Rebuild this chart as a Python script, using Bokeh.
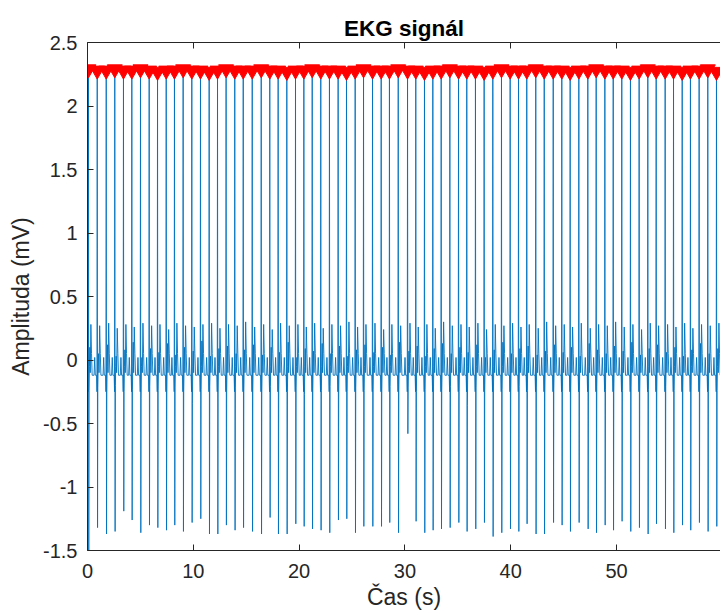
from bokeh.plotting import figure
from bokeh.models import LinearAxis, Range1d, FixedTicker
from bokeh.embed import file_html
from bokeh.resources import INLINE

# R-peak times (s)
beat_times = [0.09, 0.92, 1.77, 2.58, 3.40, 4.19, 5.01, 5.83, 6.62, 7.44, 8.22, 9.04, 9.86, 10.68, 11.50, 12.29, 13.10, 13.92, 14.72,
              15.57, 16.42, 17.23, 18.02, 18.84, 19.66, 20.45, 21.24, 22.05, 22.87, 23.69, 24.48, 25.30, 26.09, 26.94, 27.76, 28.54, 29.37,
              30.25, 31.03, 31.85, 32.64, 33.43, 34.25, 35.07, 35.85, 36.67, 37.49, 38.31, 39.13, 39.95, 40.74, 41.52, 42.37, 43.17, 44.02,
              44.83, 45.62, 46.44, 47.29, 48.08, 48.90, 49.69, 50.50, 51.32, 52.14, 52.96, 53.75, 54.60, 55.39, 56.21, 56.99, 57.81, 58.63, 59.45]

# R-peak amplitudes (mV)
r_peaks = [2.29, 2.28, 2.28, 2.29, 2.28, 2.28, 2.29, 2.28, 2.27, 2.28, 2.28, 2.29, 2.28, 2.28, 2.27, 2.28, 2.29, 2.28, 2.28,
           2.28, 2.29, 2.28, 2.28, 2.27, 2.28, 2.28, 2.29, 2.28, 2.28, 2.28, 2.27, 2.28, 2.29, 2.28, 2.28, 2.28, 2.29,
           2.28, 2.28, 2.27, 2.28, 2.28, 2.29, 2.28, 2.28, 2.28, 2.27, 2.28, 2.29, 2.28, 2.28, 2.28, 2.29, 2.28, 2.28,
           2.28, 2.27, 2.28, 2.28, 2.29, 2.28, 2.28, 2.28, 2.27, 2.28, 2.29, 2.28, 2.28, 2.28, 2.27, 2.28, 2.28, 2.29, 2.27]

# S-wave troughs (mV)
s_troughs = [-1.50, -1.32, -1.37, -1.35, -1.19, -1.26, -1.36, -1.30, -1.32, -1.34, -1.30, -1.35, -1.28, -1.25, -1.37, -1.37, -1.30, -1.34, -1.32,
             -1.35, -1.37, -1.24, -1.37, -1.37, -1.29, -1.31, -1.33, -1.34, -1.36, -1.26, -1.25, -1.36, -1.31, -1.31, -1.31, -1.28, -1.36,
             -0.58, -1.27, -1.36, -1.34, -1.33, -1.32, -1.28, -1.35, -1.33, -1.28, -1.39, -1.36, -1.33, -1.35, -1.29, -1.37, -1.37, -1.28,
             -1.30, -1.35, -1.28, -1.33, -1.36, -1.30, -1.34, -1.27, -1.35, -1.32, -1.37, -1.29, -1.33, -1.36, -1.30, -1.34, -1.28, -1.35, -1.31]

# T-wave peaks (mV)
t_waves = [0.28, 0.27, 0.29, 0.25, 0.28, 0.26, 0.29, 0.27, 0.28, 0.24, 0.29, 0.27, 0.26, 0.28, 0.29, 0.25, 0.28, 0.27, 0.30,
           0.26, 0.28, 0.24, 0.29, 0.27, 0.28, 0.26, 0.29, 0.25, 0.28, 0.27, 0.30, 0.26, 0.28, 0.29, 0.24, 0.28, 0.27,
           0.29, 0.26, 0.28, 0.25, 0.30, 0.27, 0.28, 0.26, 0.29, 0.24, 0.28, 0.27, 0.29, 0.26, 0.28, 0.25, 0.30, 0.27,
           0.28, 0.26, 0.29, 0.25, 0.28, 0.27, 0.30, 0.26, 0.28, 0.24, 0.29, 0.27, 0.28, 0.26, 0.29, 0.25, 0.28, 0.27, 0.29]

# small post-QRS wave peaks (mV)
j_waves = [0.10, 0.05, 0.12, 0.03, 0.08, 0.14, 0.02, 0.09, 0.06, 0.13, 0.04, 0.10, 0.07, 0.15, 0.03, 0.09, 0.11, 0.05, 0.08,
           0.12, 0.04, 0.10, 0.06, 0.14, 0.02, 0.09, 0.07, 0.13, 0.05, 0.11, 0.03, 0.08, 0.12, 0.06, 0.10, 0.04, 0.14,
           0.07, 0.11, 0.03, 0.09, 0.13, 0.05, 0.10, 0.06, 0.12, 0.02, 0.08, 0.14, 0.05, 0.09, 0.11, 0.04, 0.07, 0.12,
           0.06, 0.10, 0.03, 0.13, 0.08, 0.05, 0.11, 0.07, 0.14, 0.04, 0.09, 0.12, 0.06, 0.10, 0.03, 0.08, 0.13, 0.05, 0.09]

# dips after S (mV)
dips = [-0.24, -0.22, -0.26, -0.20, -0.25, -0.23, -0.30, -0.21, -0.24, -0.26, -0.22, -0.25, -0.34, -0.23, -0.21, -0.26, -0.24, -0.22, -0.25,
        -0.23, -0.26, -0.21, -0.24, -0.25, -0.22, -0.27, -0.23, -0.24, -0.21, -0.26, -0.25, -0.22, -0.24, -0.23, -0.26, -0.21, -0.24,
        -0.22, -0.25, -0.23, -0.26, -0.24, -0.21, -0.25, -0.36, -0.22, -0.24, -0.26, -0.23, -0.25, -0.21, -0.24, -0.22, -0.26, -0.23,
        -0.25, -0.22, -0.24, -0.26, -0.21, -0.23, -0.25, -0.24, -0.22, -0.26, -0.23, -0.25, -0.21, -0.24, -0.22, -0.26, -0.23, -0.25, -0.24]

# one beat's shape: offsets from the R peak (s) and values (mV); names refer to the per-beat lists
beat_offsets = [-0.30, -0.24, -0.18, -0.06, -0.025, 0.00, 0.03, 0.055, 0.09, 0.13, 0.17, 0.23, 0.29, 0.35]
beat_values = [-0.12, 0.02, -0.12, -0.12, -0.25, "R", "S", "D", -0.05, "J", -0.10, "T", 0.05, -0.12]

start_time = [0.0]
start_value = [0.52]

# assemble the signal from the beats
t_sig = list(start_time)
v_sig = list(start_value)
for bt, r, s, tw, jw, dp in zip(beat_times, r_peaks, s_troughs, t_waves, j_waves, dips):
    slots = {"R": r, "S": s, "T": tw, "J": jw, "D": dp}
    for dt, bv in zip(beat_offsets, beat_values):
        tt = bt + dt
        if tt <= t_sig[-1]:
            continue
        t_sig.append(tt)
        v_sig.append(slots[bv] if isinstance(bv, str) else bv)

FONT = "Liberation Sans"
TXT = "#262626"

p = figure(width=720, height=612, x_range=Range1d(0, 59.83), y_range=Range1d(-1.5, 2.5),
           output_backend="svg", toolbar_location=None,
           min_border_left=87, min_border_top=42, min_border_right=0, min_border_bottom=40,
           title="EKG signál")
p.outline_line_color = None
p.xgrid.visible = False
p.ygrid.visible = False
p.background_fill_color = "white"
p.border_fill_color = "white"

p.title.text_font = FONT
p.title.text_font_size = "22.5px"
p.title.text_font_style = "bold"
p.title.text_color = "#000000"
p.title.align = "center"
p.title.standoff = 4

p.line(t_sig, v_sig, line_color="#0072BD", line_width=0.9)
p.scatter(beat_times, r_peaks, marker="inverted_triangle", size=15,
          fill_color="#FF0000", line_color="#FF0000")

x_ticks = [0, 10, 20, 30, 40, 50]
y_ticks = [-1.5, -1, -0.5, 0, 0.5, 1, 1.5, 2, 2.5]
y_tick_labels = ["-1.5", "-1", "-0.5", "0", "0.5", "1", "1.5", "2", "2.5"]

bottom = p.below[0]
left = p.left[0]

bottom.ticker = FixedTicker(ticks=x_ticks)
bottom.axis_label = "Čas (s)"
left.ticker = FixedTicker(ticks=y_ticks)
left.axis_label = "Amplituda (mV)"
left.major_label_overrides = dict(zip(y_ticks, y_tick_labels))

top = LinearAxis(ticker=FixedTicker(ticks=x_ticks), major_label_text_font_size="1px",
                 major_label_standoff=0, major_label_overrides={v: "" for v in x_ticks})
p.add_layout(top, "above")

for ax in [bottom, left, top]:
    ax.axis_line_color = TXT
    ax.axis_line_width = 1
    ax.major_tick_line_color = TXT
    ax.major_tick_in = 6
    ax.major_tick_out = 0
    ax.minor_tick_line_color = None
    ax.major_label_text_font = FONT
    ax.major_label_text_color = TXT
    ax.axis_label_text_font = FONT
    ax.axis_label_text_color = TXT
    ax.axis_label_text_font_style = "normal"

for ax in [bottom, left]:
    ax.major_label_text_font_size = "20px"
    ax.axis_label_text_font_size = "23px"

bottom.major_label_standoff = 13
bottom.axis_label_standoff = 3
left.major_label_standoff = 10
left.axis_label_standoff = 6

open("out.html", "w").write(file_html(p, INLINE))
